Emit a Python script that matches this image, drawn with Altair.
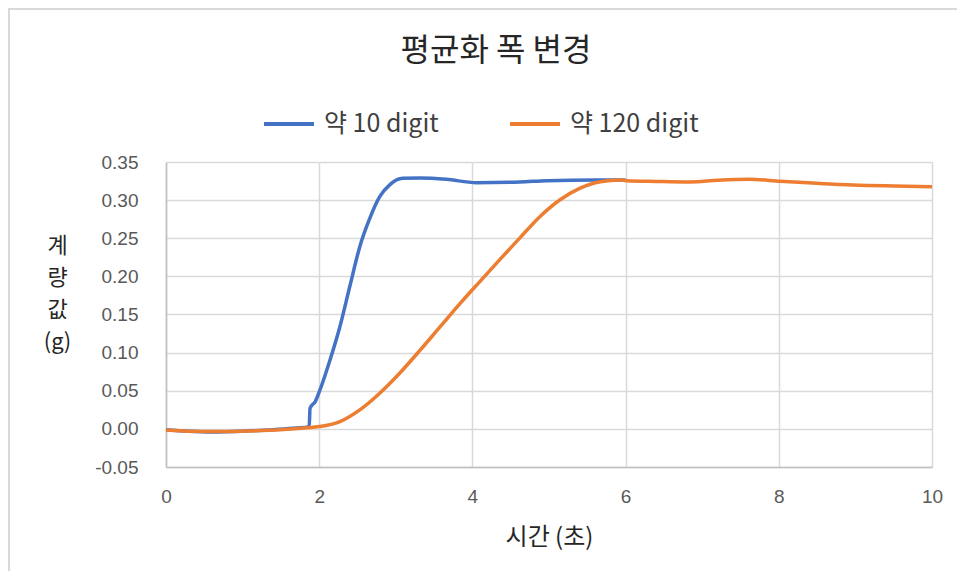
import altair as alt
import pandas as pd

# Series names
series_names = ["약 10 digit", "약 120 digit"]
series_colors = ["#4472C4", "#ED7D31"]

# Blue series (약 10 digit)
blue_t = [0, 0.3, 0.6, 1.0, 1.4, 1.7, 1.87, 1.88, 1.95, 2.01, 2.14, 2.27, 2.40, 2.53,
          2.66, 2.79, 2.92, 3.09, 3.32, 3.66, 4.05, 4.62, 4.97, 5.62, 6.0]
blue_v = [-0.001, -0.003, -0.004, -0.003, -0.001, 0.001, 0.003, 0.027, 0.036, 0.051,
          0.090, 0.134, 0.187, 0.239, 0.276, 0.3045, 0.320, 0.3286, 0.329, 0.3273,
          0.3229, 0.3238, 0.3255, 0.3264, 0.3264]

# Orange series (약 120 digit)
orange_t = [0, 0.3, 0.66, 1.0, 1.49, 1.88, 2.01, 2.27, 2.53, 2.79, 3.05, 3.32, 3.58,
            3.84, 4.10, 4.36, 4.62, 4.88, 5.14, 5.40, 5.67, 5.93, 6.01, 6.4, 6.84,
            7.2, 7.62, 8.02, 8.5, 8.97, 9.5, 10]
orange_v = [-0.0014, -0.003, -0.0036, -0.003, -0.0013, 0.0017, 0.003, 0.0095, 0.0249,
            0.0468, 0.073, 0.1035, 0.134, 0.1645, 0.1935, 0.2222, 0.2505, 0.2783,
            0.3002, 0.3155, 0.3242, 0.3264, 0.3255, 0.3245, 0.3238, 0.326, 0.3273,
            0.3247, 0.322, 0.3198, 0.3185, 0.3176]

x_ticks = [0, 2, 4, 6, 8, 10]
y_ticks = [-0.05, 0.0, 0.05, 0.10, 0.15, 0.20, 0.25, 0.30, 0.35]

blue_df = pd.DataFrame({"t": blue_t, "v": blue_v, "s": series_names[0]})
orange_df = pd.DataFrame({"t": orange_t, "v": orange_v, "s": series_names[1]})

W, H = 766, 305
LABEL_FONT = "Liberation Sans"
KR_FONT = "Noto Sans CJK KR"

color = alt.Color(
    "s:N",
    scale=alt.Scale(domain=series_names, range=series_colors),
    legend=alt.Legend(
        title=None,
        orient="none",
        legendX=96,
        legendY=-65,
        direction="horizontal",
        symbolType="stroke",
        symbolSize=2500,
        symbolStrokeWidth=4,
        labelFont=KR_FONT,
        labelFontSize=25,
        labelColor="#404040",
        labelOffset=8,
        columnPadding=63,
        labelLimit=300,
    ),
)

x_enc = alt.X(
    "t:Q",
    scale=alt.Scale(domain=[0, 10], nice=False),
    axis=alt.Axis(
        values=x_ticks,
        format="d",
        grid=True,
        gridColor="#d9d9d9",
        gridWidth=1.5,
        domainColor="#bfbfbf",
        domainWidth=1.5,
        ticks=False,
        labelFont=LABEL_FONT,
        labelFontSize=19,
        labelColor="#595959",
        labelPadding=20,
        labelFlush=False,
        labelOverlap=False,
        title="시간 (초)",
        titleFont=KR_FONT,
        titleFontSize=24,
        titleFontWeight="normal",
        titleColor="#262626",
        titleBaseline="middle",
        titleY=70,
    ),
)

y_enc = alt.Y(
    "v:Q",
    scale=alt.Scale(domain=[-0.05, 0.35], nice=False, zero=False),
    axis=alt.Axis(
        values=y_ticks,
        labelExpr="(datum.value < 0 ? '-' : '') + format(abs(datum.value), '.2f')",
        grid=True,
        gridColor="#d9d9d9",
        gridWidth=1.5,
        domainColor="#bfbfbf",
        domainWidth=1.5,
        ticks=False,
        labelFont=LABEL_FONT,
        labelFontSize=19,
        labelColor="#595959",
        labelPadding=28,
        title=["계", "량", "값", "(g)"],
        titleFont=KR_FONT,
        titleFontSize=22,
        titleFontWeight="normal",
        titleColor="#262626",
        titleAngle=0,
        titleAlign="center",
        titleBaseline="top",
        titleLineHeight=32,
        titleX=-109,
        titleY=73,
    ),
)

border = alt.Chart(pd.DataFrame({"a": [0]})).mark_rect(
    fill=None, stroke="#d9d9d9", strokeWidth=2, clip=False
).encode(
    x=alt.value(-157), x2=alt.value(W + 80),
    y=alt.value(-153), y2=alt.value(H + 130),
)

blue = alt.Chart(blue_df).mark_line(strokeWidth=3.5, interpolate="monotone").encode(
    x=x_enc, y=y_enc, color=color
)
orange = alt.Chart(orange_df).mark_line(strokeWidth=3.5, interpolate="monotone").encode(
    x=x_enc, y=y_enc, color=color
)

chart = alt.layer(border, blue, orange).properties(
    width=W,
    height=H,
    autosize=alt.AutoSizeParams(type="none"),
    padding={"left": 158, "top": 154, "right": 25, "bottom": 104},
    title=alt.TitleParams(
        "평균화 폭 변경",
        font=KR_FONT,
        fontSize=32,
        fontWeight="normal",
        color="#262626",
        anchor="middle",
        frame="group",
        dx=-53,
        offset=0,
        dy=60,
    ),
).configure_view(stroke=None)

chart.save("out.html", embed_options={"renderer": "svg", "actions": False})
